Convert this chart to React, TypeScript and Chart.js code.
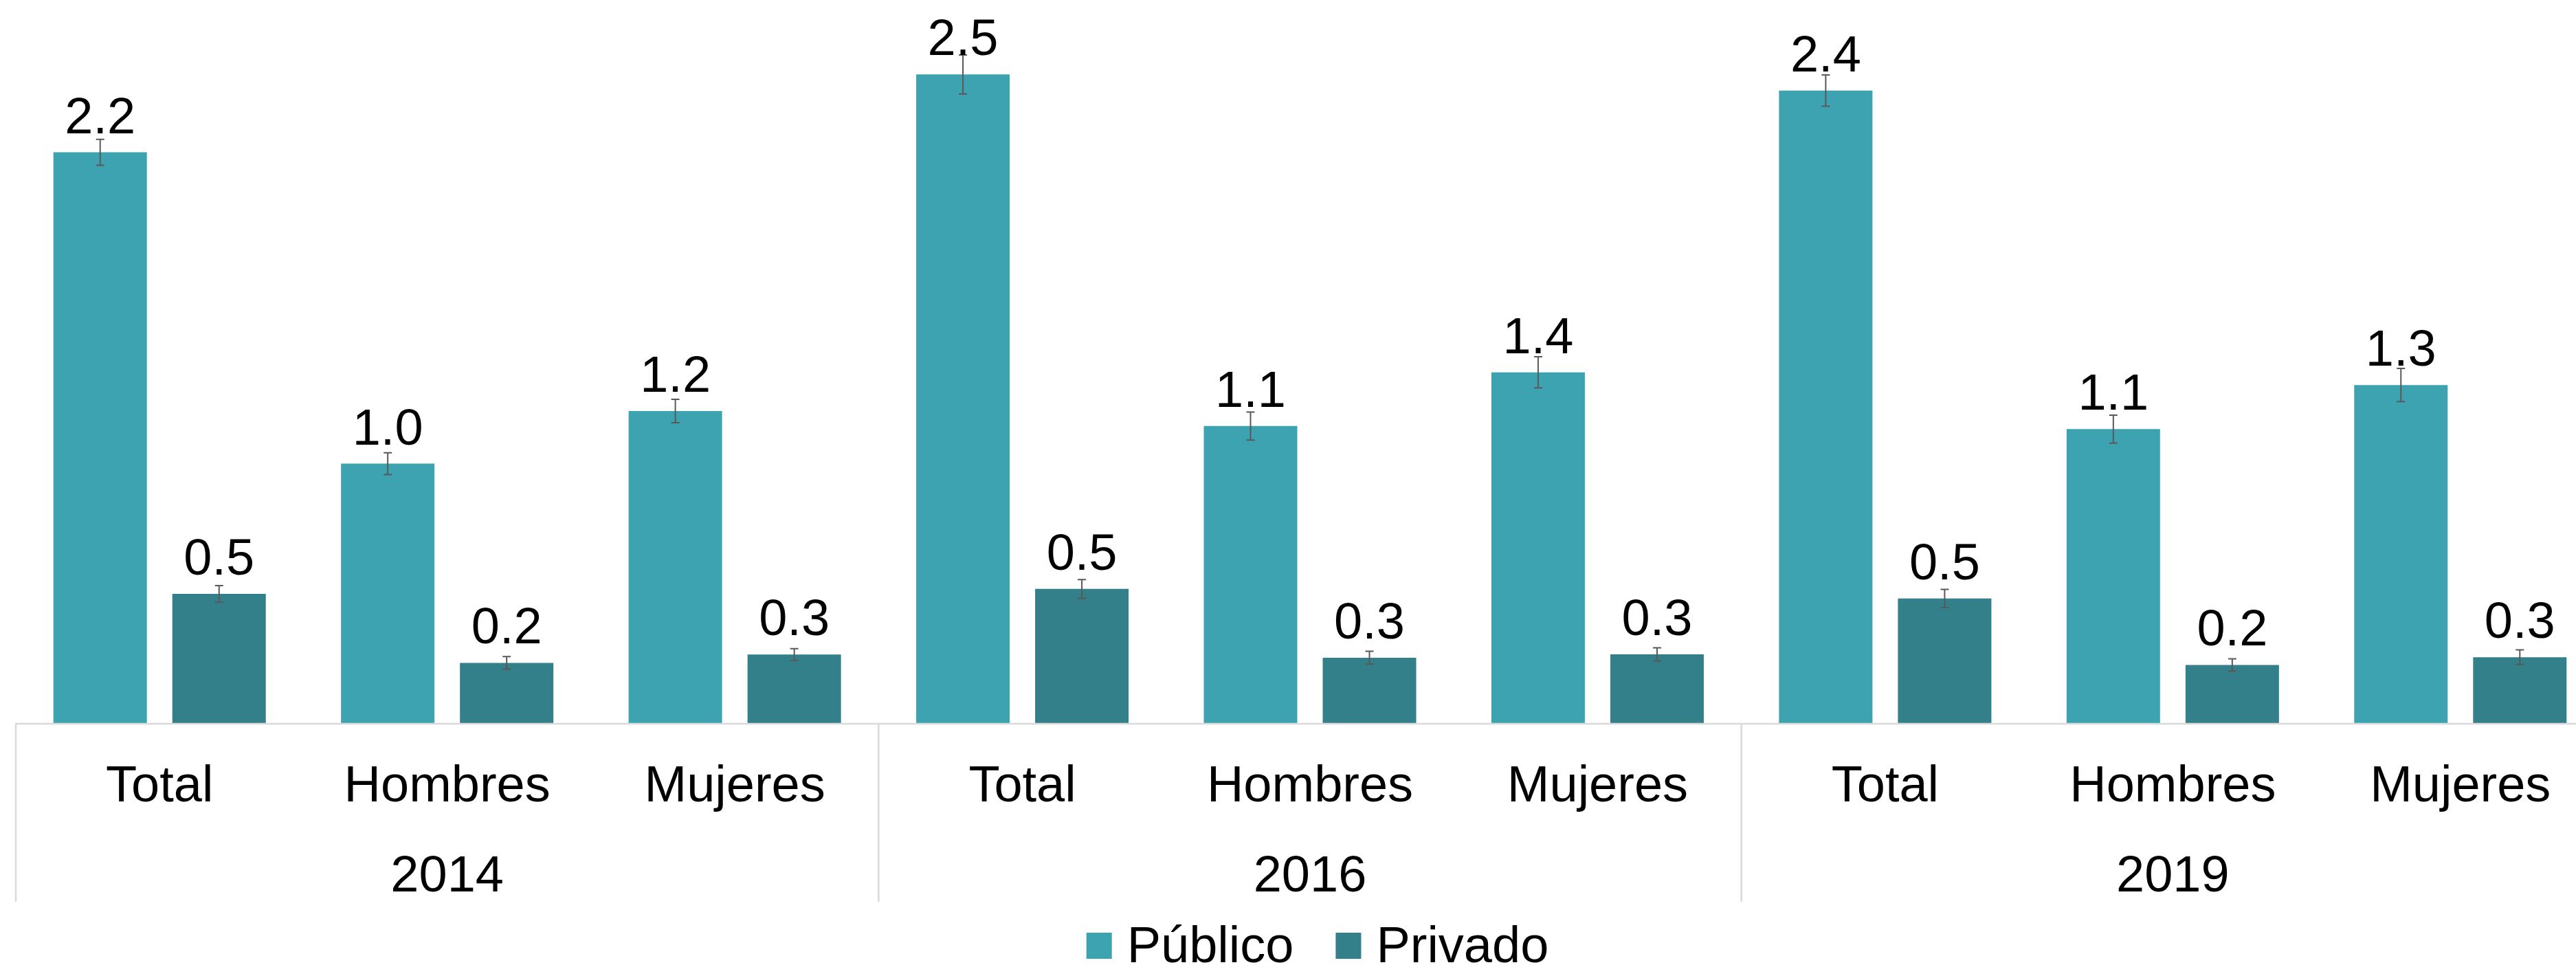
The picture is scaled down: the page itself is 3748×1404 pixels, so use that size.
import React, { useEffect, useRef } from 'react';
import { Chart, registerables } from 'chart.js';

Chart.register(...registerables);

const groups = ['Total', 'Hombres', 'Mujeres', 'Total', 'Hombres', 'Mujeres', 'Total', 'Hombres', 'Mujeres'];
const years = ['2014', '2016', '2019'];
const seriesNames = ['Público', 'Privado'];

const publico = [2.2, 1.0, 1.203, 2.5, 1.145, 1.352, 2.438, 1.133, 1.303];
const privado = [0.498, 0.232, 0.264, 0.517, 0.252, 0.265, 0.48, 0.224, 0.254];
const publicoErr = [0.05, 0.042, 0.045, 0.075, 0.054, 0.06, 0.06, 0.054, 0.064];
const privadoErr = [0.032, 0.024, 0.023, 0.036, 0.025, 0.025, 0.035, 0.024, 0.028];

const colors = ['#3EA3B1', '#337F8A'];
const FONT = '74px "Liberation Sans", Arial, sans-serif';

const overlay = {
  id: 'overlay',
  afterDraw(chart: any) {
    const ctx = chart.ctx;
    const area = chart.chartArea;
    const ys = chart.scales.y;
    const xs = chart.scales.x;
    const errs = [publicoErr, privadoErr];
    ctx.save();

    // error bars and value labels
    chart.data.datasets.forEach((ds: any, d: number) => {
      const meta = chart.getDatasetMeta(d);
      meta.data.forEach((bar: any, i: number) => {
        const v = ds.data[i];
        const e = errs[d][i];
        const yt = ys.getPixelForValue(v + e);
        const yb = ys.getPixelForValue(v - e);
        ctx.strokeStyle = '#595959';
        ctx.lineWidth = 2;
        ctx.beginPath();
        ctx.moveTo(bar.x, yt);
        ctx.lineTo(bar.x, yb);
        ctx.moveTo(bar.x - 6, yt);
        ctx.lineTo(bar.x + 6, yt);
        ctx.moveTo(bar.x - 6, yb);
        ctx.lineTo(bar.x + 6, yb);
        ctx.stroke();

        ctx.fillStyle = '#000';
        ctx.font = FONT;
        ctx.textAlign = 'center';
        ctx.textBaseline = 'alphabetic';
        ctx.fillText(v.toFixed(1), bar.x, bar.y - 28);
      });
    });

    // axis table lines
    const base = area.bottom;
    const catW = (area.right - area.left) / groups.length;
    ctx.strokeStyle = '#d9d9d9';
    ctx.lineWidth = 2.5;
    ctx.beginPath();
    ctx.moveTo(area.left, base + 1);
    ctx.lineTo(chart.width, base + 1);
    for (let g = 0; g <= years.length; g++) {
      const x = area.left + g * 3 * catW;
      ctx.moveTo(x, base);
      ctx.lineTo(x, base + 260);
    }
    ctx.stroke();

    // category labels
    ctx.fillStyle = '#000';
    ctx.font = FONT;
    ctx.textAlign = 'center';
    ctx.textBaseline = 'alphabetic';
    groups.forEach((g, i) => {
      ctx.fillText(g, xs.getPixelForValue(i), base + 114);
    });
    years.forEach((y, i) => {
      ctx.fillText(y, xs.getPixelForValue(i * 3 + 1), base + 245);
    });

    // legend
    const box = 37;
    const gapBox = 22;
    const gapItem = 61;
    const widths = seriesNames.map((n) => ctx.measureText(n).width);
    const total = widths.reduce((a, w) => a + box + gapBox + w, 0) + gapItem * (seriesNames.length - 1);
    let lx = 1917 - total / 2;
    ctx.textAlign = 'left';
    seriesNames.forEach((n, i) => {
      ctx.fillStyle = colors[i];
      ctx.fillRect(lx, 1357, box, 38);
      lx += box + gapBox;
      ctx.fillStyle = '#000';
      ctx.fillText(n, lx, 1400);
      lx += widths[i] + gapItem;
    });

    ctx.restore();
  },
};

export default function App() {
  const ref = useRef<HTMLCanvasElement | null>(null);

  useEffect(() => {
    if (!ref.current) return;
    const chart = new Chart(ref.current, {
      type: 'bar',
      data: {
        labels: groups.map((g, i) => g + ' ' + years[Math.floor(i / 3)]),
        datasets: [
          {
            label: seriesNames[0],
            data: publico,
            backgroundColor: colors[0],
            borderWidth: 0,
            barPercentage: 0.786,
            categoryPercentage: 0.827,
          },
          {
            label: seriesNames[1],
            data: privado,
            backgroundColor: colors[1],
            borderWidth: 0,
            barPercentage: 0.786,
            categoryPercentage: 0.827,
          },
        ],
      },
      options: {
        responsive: false,
        animation: false,
        devicePixelRatio: 1,
        layout: { padding: { left: 23, right: 11, top: 14, bottom: 352 } },
        plugins: { legend: { display: false }, tooltip: { enabled: false } },
        scales: {
          x: { display: false, offset: true, grid: { display: false } },
          y: { display: false, min: 0, max: 2.75 },
        },
      },
      plugins: [overlay],
    });
    return () => chart.destroy();
  }, []);

  return (
    <div
      style={{
        position: 'fixed',
        left: 0,
        top: 0,
        width: 3748,
        height: 1404,
        overflow: 'hidden',
        background: '#ffffff',
      }}
    >
      <canvas ref={ref} width={3800} height={1404} style={{ display: 'block', width: 3800, height: 1404 }} />
    </div>
  );
}
